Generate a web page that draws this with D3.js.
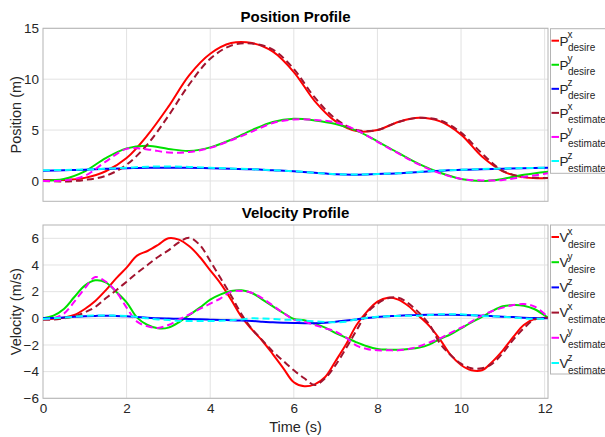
<!DOCTYPE html>
<html><head><meta charset="utf-8">
<script src="https://cdn.jsdelivr.net/npm/d3@7"></script>
<style>
html,body{margin:0;padding:0;background:#fff;}
svg{display:block;font-family:"Liberation Sans",Arial,Helvetica,sans-serif;}
</style></head>
<body>
<svg id="chart" width="605" height="437"></svg>
<script>
// ---------- DATA ----------
const posTime = [0,0.5,1,1.5,2,2.5,3,3.5,4,4.5,5,5.5,6,6.5,7,7.5,8,8.5,9,9.5,10,10.5,11,11.5,12.08];
const pxDesire   = [0.1,0.1,0.3,0.95,2.25,4.5,7.3,10.4,12.5,13.55,13.55,12.7,10.7,7.85,5.85,4.9,5.0,5.8,6.2,5.85,4.55,2.4,0.95,0.35,0.3];
const pyDesire   = [0.05,0.2,0.95,2.25,3.2,3.45,3.15,2.95,3.3,4.05,5.0,5.8,6.1,5.95,5.6,4.95,3.9,2.75,1.65,0.8,0.2,0.0,0.2,0.6,0.9];
const pzDesire   = [1.0,1.05,1.1,1.2,1.25,1.3,1.3,1.3,1.25,1.2,1.15,1.05,0.95,0.8,0.65,0.62,0.68,0.75,0.88,1.0,1.1,1.15,1.2,1.25,1.3];
const pxEstimate = [0.0,-0.05,0.1,0.5,1.6,3.6,6.4,9.5,12.0,13.3,13.5,12.9,11.0,8.2,6.1,5.0,5.0,5.8,6.2,5.95,4.75,2.7,1.0,0.4,0.3];
const pyEstimate = [0.0,0.05,0.5,1.9,3.15,3.1,2.8,2.85,3.25,4.0,4.85,5.7,6.05,6.0,5.75,5.0,3.85,2.7,1.6,0.75,0.2,0.05,0.1,0.4,0.75];
const pzEstimate = [1.05,1.08,1.12,1.2,1.3,1.4,1.42,1.38,1.3,1.22,1.15,1.05,0.97,0.8,0.66,0.63,0.68,0.76,0.9,1.02,1.1,1.17,1.22,1.27,1.3];

const velTime = [0,0.25,0.5,0.75,1,1.25,1.5,1.75,2,2.25,2.5,2.75,3,3.25,3.5,3.75,4,4.25,4.5,4.75,5,5.25,5.5,5.75,6,
                 6.25,6.5,6.75,7,7.25,7.5,7.75,8,8.25,8.5,8.75,9,9.25,9.5,9.75,10,10.25,10.5,10.75,11,11.25,11.5,11.75,12.08];
const vxDesire   = [-0.05,-0.03,0.05,0.25,0.7,1.3,2.1,3.0,3.8,4.7,5.05,5.5,6.0,5.9,5.4,4.6,3.6,2.6,1.4,0.1,-0.85,-1.7,-2.7,-3.75,-4.8,
                    -5.1,-4.95,-4.4,-3.2,-1.95,-0.5,0.5,1.25,1.55,1.4,0.9,0.15,-0.6,-1.6,-2.75,-3.5,-3.9,-3.9,-3.25,-2.4,-1.4,-0.5,-0.05,0.05];
const vyDesire   = [0,0.2,0.7,1.6,2.45,2.85,2.7,2.0,1.2,0.05,-0.5,-0.75,-0.7,-0.3,0.25,0.8,1.4,1.8,2.05,2.1,1.9,1.4,0.9,0.4,-0.05,
                    -0.15,-0.4,-0.7,-1.1,-1.45,-1.8,-2.1,-2.3,-2.35,-2.35,-2.3,-2.2,-1.95,-1.55,-1.2,-0.75,-0.3,0.1,0.55,0.9,1.0,0.95,0.7,0.05];
const vzDesire   = [0,0.03,0.07,0.11,0.15,0.18,0.2,0.18,0.15,0.1,0.05,0.0,-0.02,-0.03,-0.05,-0.07,-0.1,-0.12,-0.15,-0.17,-0.2,-0.25,-0.3,-0.33,-0.35,
                    -0.37,-0.37,-0.33,-0.25,-0.17,-0.08,0.02,0.1,0.15,0.2,0.23,0.25,0.26,0.26,0.26,0.25,0.23,0.2,0.16,0.12,0.09,0.05,0.02,0];
const vxEstimate = [-0.1,-0.1,0.0,0.15,0.45,0.85,1.5,2.1,2.75,3.4,4.0,4.6,5.1,5.7,6.05,5.5,4.3,3.0,1.7,0.3,-0.8,-1.65,-2.5,-3.2,-3.9,
                    -4.5,-5.0,-4.5,-3.5,-2.25,-0.9,0.4,1.1,1.5,1.55,1.1,0.4,-0.5,-1.9,-2.75,-3.4,-3.75,-3.75,-3.4,-2.6,-1.6,-0.75,-0.1,0.05];
const vyEstimate = [-0.05,0.0,0.35,1.25,2.25,3.1,2.75,2.0,0.8,-0.25,-0.6,-0.72,-0.5,-0.1,0.3,0.7,1.1,1.5,2.0,2.05,1.9,1.5,0.95,0.4,-0.1,
                    -0.25,-0.5,-0.75,-1.0,-1.45,-2.05,-2.3,-2.4,-2.4,-2.4,-2.3,-2.1,-1.8,-1.5,-1.1,-0.7,-0.25,0.2,0.55,0.8,1.0,1.07,0.9,0.1];
const vzEstimate = [-0.05,0.0,0.05,0.12,0.18,0.21,0.22,0.2,0.18,0.1,0.0,-0.08,-0.13,-0.18,-0.2,-0.21,-0.2,-0.18,-0.15,-0.08,0.0,-0.02,-0.05,-0.1,-0.12,
                    -0.17,-0.22,-0.27,-0.3,-0.25,-0.07,0.05,0.12,0.16,0.18,0.19,0.2,0.25,0.3,0.3,0.3,0.25,0.18,0.15,0.12,0.06,0.0,-0.03,-0.05];

const xTicks = [0,2,4,6,8,10,12];
const posTicks = [0,5,10,15];
const velTicks = [-6,-4,-2,0,2,4,6];
const axisComps = ["x","y","z"];
const seriesKinds = ["desire","estimate"];

// ---------- STYLES ----------
const colors = {desire:["#ff0000","#00e000","#0000ff"], estimate:["#a2142f","#ff00ff","#00ffff"]};
const FONT = '"Liberation Sans",Arial,Helvetica,sans-serif';

const svg = d3.select("#chart");
const L = 43, R = 548;
const x = d3.scaleLinear().domain([0,12.08]).range([L,R]);

function panel(cfg){
  const y = d3.scaleLinear().domain(cfg.ydom).range([cfg.bottom, cfg.top]);
  const g = svg.append("g");
  // grid
  g.append("g").selectAll("line").data(xTicks.filter(d=>d>0)).join("line")
    .attr("x1",d=>x(d)).attr("x2",d=>x(d)).attr("y1",cfg.top).attr("y2",cfg.bottom)
    .attr("stroke","#e2e2e2").attr("stroke-width",1);
  g.append("g").selectAll("line").data(cfg.yticks).join("line")
    .attr("x1",L).attr("x2",R).attr("y1",d=>y(d)).attr("y2",d=>y(d))
    .attr("stroke","#e2e2e2").attr("stroke-width",1);
  // box
  g.append("rect").attr("x",L).attr("y",cfg.top).attr("width",R-L).attr("height",cfg.bottom-cfg.top)
    .attr("fill","none").attr("stroke","#b4b4b4").attr("stroke-width",1);
  // axes
  const ya = d3.axisLeft(y).tickValues(cfg.yticks).tickSize(0).tickPadding(4);
  g.append("g").attr("transform",`translate(${L},0)`).call(ya)
    .call(s=>s.select(".domain").remove())
    .call(s=>s.selectAll("text").attr("font-size",13.5).attr("fill","#262626").attr("font-family",FONT));
  if(cfg.xlabels){
    const xa = d3.axisBottom(x).tickValues(xTicks).tickSize(0).tickPadding(5);
    g.append("g").attr("transform",`translate(0,${cfg.bottom})`).call(xa)
      .call(s=>s.select(".domain").remove())
      .call(s=>s.selectAll("text").attr("font-size",13.5).attr("fill","#262626").attr("font-family",FONT));
  }
  // lines
  const clipId = "clip"+cfg.id;
  svg.append("clipPath").attr("id",clipId).append("rect")
    .attr("x",L).attr("y",cfg.top).attr("width",R-L).attr("height",cfg.bottom-cfg.top);
  const lineGen = d3.line().x(d=>x(d[0])).y(d=>y(d[1])).curve(d3.curveCatmullRom.alpha(0.5));
  const lg = g.append("g").attr("clip-path",`url(#${clipId})`);
  seriesKinds.forEach(kind=>{
    cfg.series[kind].forEach((vals,i)=>{
      lg.append("path").datum(cfg.time.map((t,k)=>[t,vals[k]]))
        .attr("d",lineGen).attr("fill","none")
        .attr("stroke",colors[kind][i]).attr("stroke-width",2)
        .attr("stroke-dasharray",kind==="estimate"?"7,4":null);
    });
  });
  // title
  svg.append("text").attr("x",(L+R)/2).attr("y",cfg.titleY).attr("text-anchor","middle")
    .attr("font-size",15).attr("font-weight","bold").attr("font-family",FONT).attr("fill","#000").text(cfg.title);
  // y label
  svg.append("text").attr("transform",`translate(21,${(cfg.top+cfg.bottom)/2}) rotate(-90)`)
    .attr("text-anchor","middle").attr("font-size",14.5).attr("font-family",FONT).attr("fill","#262626").text(cfg.ylabel);
  // legend
  const lgd = svg.append("g");
  lgd.append("rect").attr("x",550.5).attr("y",cfg.legTop).attr("width",70).attr("height",cfg.legBottom-cfg.legTop)
    .attr("fill","#fff").attr("stroke","#b4b4b4").attr("stroke-width",1);
  let idx = 0;
  seriesKinds.forEach(kind=>{
    axisComps.forEach((c,i)=>{
      const ly = cfg.legFirst + idx*cfg.legStep;
      lgd.append("line").attr("x1",551.5).attr("x2",559).attr("y1",ly).attr("y2",ly)
        .attr("stroke",colors[kind][i]).attr("stroke-width",2);
      lgd.append("text").attr("x",559.5).attr("y",ly+4.8).attr("font-size",13.5).attr("font-family",FONT)
        .attr("fill","#262626").text(cfg.sym);
      lgd.append("text").attr("x",567.5).attr("y",ly-2.5).attr("font-size",10).attr("font-family",FONT)
        .attr("fill","#262626").text(c);
      lgd.append("text").attr("x",568).attr("y",ly+10.5).attr("font-size",10).attr("font-family",FONT)
        .attr("fill","#262626").text(kind);
      idx++;
    });
  });
}

panel({id:"p", top:28.3, bottom:201.3, ydom:[-2,15], yticks:posTicks, xlabels:false,
  time:posTime, series:{desire:[pxDesire,pyDesire,pzDesire], estimate:[pxEstimate,pyEstimate,pzEstimate]},
  title:"Position Profile", titleY:21.7, ylabel:"Position (m)", sym:"P",
  legTop:28.7, legBottom:173.3, legFirst:40.7, legStep:24.06});

panel({id:"v", top:225, bottom:398.3, ydom:[-6,7], yticks:velTicks, xlabels:true,
  time:velTime, series:{desire:[vxDesire,vyDesire,vzDesire], estimate:[vxEstimate,vyEstimate,vzEstimate]},
  title:"Velocity Profile", titleY:218.3, ylabel:"Velocity (m/s)", sym:"V",
  legTop:225, legBottom:374, legFirst:237, legStep:25.2});

svg.append("text").attr("x",(L+R)/2).attr("y",432).attr("text-anchor","middle")
  .attr("font-size",14.5).attr("font-family",FONT).attr("fill","#262626").text("Time (s)");
</script>
</body></html>
